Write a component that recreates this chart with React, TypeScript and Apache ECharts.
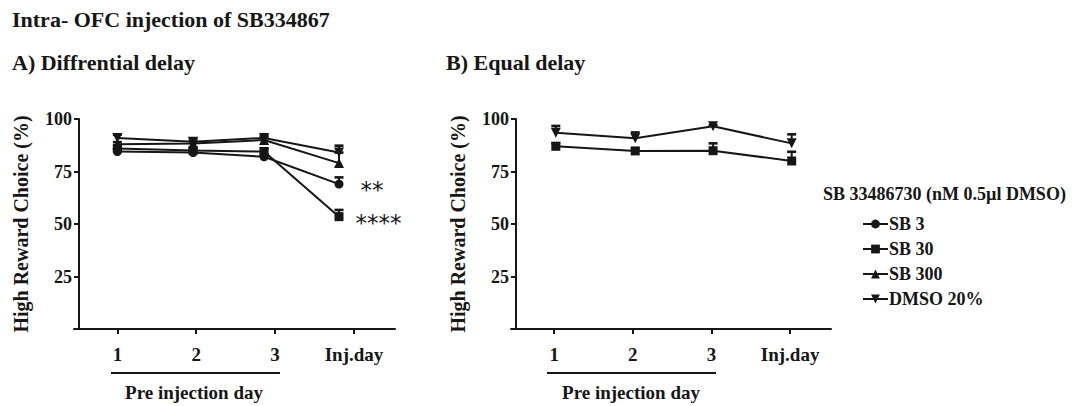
import React, { useEffect, useRef } from "react";
import * as echarts from "echarts";

const FONT = '"Liberation Serif", "Times New Roman", serif';
const INK = "#161616";

// categories on the x axis
const dayLabels = ["1", "2", "3", "Inj.day"];
const dayTicks = [1, 2, 3, 4];
// plotted x positions (panel A points drawn slightly left of ticks in the original)
const xPosA = [1, 1.96, 2.86, 3.81];
const xPosB = [1.02, 2.03, 3.02, 4.02];

// Panel A: Differential delay (mean, SEM)
const aSB3 = [84.5, 84, 82, 69];
const aSB3Err = [1, 1, 1.2, 3.2];
const aSB30 = [86, 85, 84.5, 53.5];
const aSB30Err = [1.2, 1, 1.5, 3.2];
const aSB300 = [88, 88.3, 90, 79];
const aSB300Err = [1, 1, 1.2, 5];
const aDMSO = [91, 89.2, 91, 84];
const aDMSOErr = [1.5, 1.5, 1.2, 3.3];

// Panel B: Equal delay (mean, SEM)
const bDMSO = [93.5, 90.8, 96.5, 88.4];
const bDMSOErr = [3.2, 2.8, 0.5, 4.3];
const bSB30 = [87, 84.8, 84.9, 80];
const bSB30Err = [1.5, 1.2, 3.5, 4.4];

const yTicks = [25, 50, 75, 100];
const seriesNames = ["SB 3", "SB 30", "SB 300", "DMSO 20%"];
const symbols: Record<string, { symbol: string; size: number; rotate: number }> = {
  "SB 3": { symbol: "circle", size: 9, rotate: 0 },
  "SB 30": { symbol: "rect", size: 9, rotate: 0 },
  "SB 300": { symbol: "triangle", size: 10, rotate: 0 },
  "DMSO 20%": { symbol: "triangle", size: 10, rotate: 180 },
};

function lineSeries(name: string, xs: number[], ys: number[], idx: number, labels?: (any | null)[]) {
  const s = symbols[name];
  return {
    type: "line",
    name,
    xAxisIndex: idx,
    yAxisIndex: idx,
    symbol: s.symbol,
    symbolSize: s.size,
    symbolRotate: s.rotate,
    lineStyle: { color: INK, width: 2 },
    itemStyle: { color: INK, borderWidth: 0 },
    z: 3,
    data: ys.map((v, i) => {
      const item: any = { value: [xs[i], v] };
      if (labels && labels[i]) item.label = labels[i];
      return item;
    }),
  };
}

function errSeries(xs: number[], ys: number[], es: number[], idx: number) {
  return {
    type: "custom",
    xAxisIndex: idx,
    yAxisIndex: idx,
    z: 4,
    silent: true,
    encode: { x: 0, y: [1, 2] },
    data: ys.map((v, i) => [xs[i], v, v + es[i]]),
    renderItem: (params: any, api: any) => {
      const p0 = api.coord([api.value(0), api.value(1)]);
      const p1 = api.coord([api.value(0), api.value(2)]);
      const hw = 4.5;
      return {
        type: "group",
        children: [
          { type: "line", shape: { x1: p0[0], y1: p0[1], x2: p1[0], y2: p1[1] }, style: { stroke: INK, lineWidth: 2 } },
          { type: "line", shape: { x1: p1[0] - hw, y1: p1[1], x2: p1[0] + hw, y2: p1[1] }, style: { stroke: INK, lineWidth: 2.6 } },
        ],
      };
    },
  };
}

function makeX(idx: number) {
  return {
    type: "value",
    gridIndex: idx,
    min: 0.45,
    max: 4.52,
    axisLine: { show: true, lineStyle: { color: INK, width: 2 } },
    axisTick: { show: true, customValues: dayTicks, length: 5, lineStyle: { color: INK, width: 2 } },
    axisLabel: {
      customValues: dayTicks,
      formatter: (v: number) => dayLabels[Math.round(v) - 1] ?? "",
      color: INK,
      fontFamily: FONT,
      fontWeight: "bold",
      fontSize: 19,
      margin: 16,
    },
    splitLine: { show: false },
  };
}

function makeY(idx: number) {
  return {
    type: "value",
    gridIndex: idx,
    min: 0,
    max: 100,
    interval: 25,
    offset: -5,
    name: "High Reward Choice (%)",
    nameLocation: "middle",
    nameGap: 48,
    nameRotate: 90,
    nameTextStyle: { color: INK, fontFamily: FONT, fontWeight: "bold", fontSize: 20 },
    axisLine: { show: true, lineStyle: { color: INK, width: 2 } },
    axisTick: { show: true, customValues: yTicks, length: 5, lineStyle: { color: INK, width: 2 } },
    axisLabel: {
      showMinLabel: false,
      color: INK,
      fontFamily: FONT,
      fontWeight: "bold",
      fontSize: 18,
      margin: 7,
    },
    splitLine: { show: false },
  };
}

const starStyle = {
  color: INK,
  fontFamily: '"DejaVu Sans", sans-serif',
  fontSize: 23,
  fontWeight: "normal",
};

export default function App() {
  const ref = useRef<HTMLDivElement>(null);
  useEffect(() => {
    if (!ref.current) return;
    const chart = echarts.init(ref.current, null, { renderer: "svg" });
    const titleText = (text: string, x: number, y: number, size: number) => ({
      type: "text",
      x,
      y,
      style: { text, fill: INK, font: `bold ${size}px ${FONT}`, textVerticalAlign: "middle", textAlign: "left" },
    });
    const centerText = (text: string, x: number, y: number) => ({
      type: "text",
      x,
      y,
      style: { text, fill: INK, font: `bold 19px ${FONT}`, textVerticalAlign: "middle", textAlign: "center" },
    });
    chart.setOption({
      animation: false,
      backgroundColor: "#ffffff",
      grid: [
        { left: 74, top: 119, width: 321, height: 210 },
        { left: 511, top: 119, width: 320, height: 210 },
      ],
      xAxis: [makeX(0), makeX(1)],
      yAxis: [makeY(0), makeY(1)],
      legend: {
        data: seriesNames,
        orient: "vertical",
        left: 857,
        top: 210,
        itemWidth: 25,
        itemHeight: 11,
        itemGap: 7,
        textStyle: { color: INK, fontFamily: FONT, fontWeight: "bold", fontSize: 18, padding: [0, 0, 0, -4] },
      },
      graphic: [
        titleText("Intra- OFC injection of SB334867", 12, 19, 22),
        titleText("A) Diffrential delay", 12, 62, 22),
        titleText("B) Equal delay", 446, 62, 22),
        titleText("SB 33486730 (nM 0.5\u00b5l DMSO)", 823, 194, 18),
        { type: "line", shape: { x1: 111, y1: 373, x2: 280, y2: 373 }, style: { stroke: INK, lineWidth: 2 } },
        { type: "line", shape: { x1: 547, y1: 373, x2: 716, y2: 373 }, style: { stroke: INK, lineWidth: 2 } },
        centerText("Pre injection day", 194, 392),
        centerText("Pre injection day", 631, 392),
      ],
      series: [
        lineSeries("SB 3", xPosA, aSB3, 0, [null, null, null, { show: true, position: "right", distance: 17, offset: [0, 6], formatter: "**", ...starStyle }]),
        lineSeries("SB 30", xPosA, aSB30, 0, [null, null, null, { show: true, position: "right", distance: 12, offset: [0, 6], formatter: "****", ...starStyle }]),
        lineSeries("SB 300", xPosA, aSB300, 0),
        lineSeries("DMSO 20%", xPosA, aDMSO, 0),
        errSeries(xPosA, aSB3, aSB3Err, 0),
        errSeries(xPosA, aSB30, aSB30Err, 0),
        errSeries(xPosA, aSB300, aSB300Err, 0),
        errSeries(xPosA, aDMSO, aDMSOErr, 0),
        lineSeries("SB 30", xPosB, bSB30, 1),
        lineSeries("DMSO 20%", xPosB, bDMSO, 1),
        errSeries(xPosB, bSB30, bSB30Err, 1),
        errSeries(xPosB, bDMSO, bDMSOErr, 1),
      ],
    });
    return () => chart.dispose();
  }, []);
  return <div ref={ref} style={{ position: "fixed", left: 0, top: 0, width: 1072, height: 406 }} />;
}
